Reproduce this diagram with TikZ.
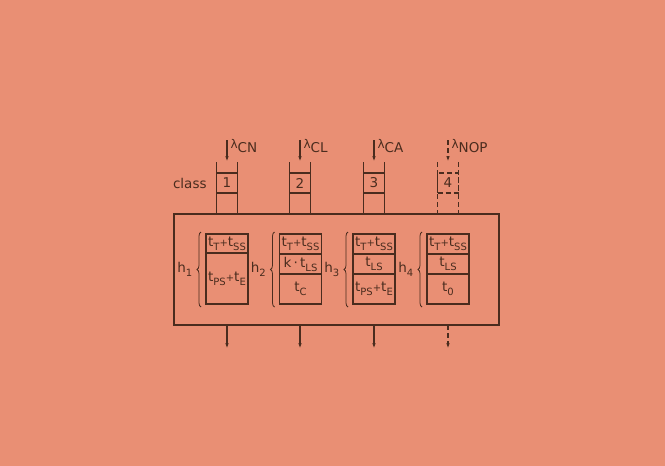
\documentclass[tikz,border=0pt]{standalone}
\usepackage{fontspec}
\setmainfont{DejaVu Sans}
\usetikzlibrary{arrows.meta, decorations.pathreplacing, positioning}
\definecolor{paper}{RGB}{233,143,116}
\definecolor{ink}{RGB}{74,44,30}
\newcommand{\sub}[1]{\raisebox{-0.55ex}{\fontsize{10}{10}\selectfont #1}}
\newcommand{\plus}{{\fontsize{10}{10}\selectfont +}}

\begin{document}
\begin{tikzpicture}[
    x=1pt, y=-1pt,
    line width=1.2pt,
    font=\fontsize{13.5}{15}\selectfont,
    cell/.style={draw, rectangle, minimum width=21pt, minimum height=20pt, inner sep=0pt, outer sep=0pt},
    slot/.style={draw, rectangle, minimum width=42pt, inner sep=0pt, outer sep=0pt},
    flow/.style={-{Latex[length=6pt, width=3.5pt]}},
    solidq/.style={solid},
    dashq/.style={dash pattern=on 5pt off 3pt},
    hbrace/.style={decorate, decoration={brace, amplitude=4pt}, line width=0.8pt}
]

    % --- Background ---
    \fill[paper] (0,0) rectangle (665,466);

    \begin{scope}[draw=ink, text=ink]

    % --- System box ---
    \node[draw, rectangle, minimum width=325pt, minimum height=111pt, outer sep=0pt] (sys) at (336.5,269.5) {};

    % --- Queues (class 1..4) ---
    \foreach \i/\x/\lab/\ls in {1/227/CN/solidq, 2/300/CL/solidq, 3/374/CA/solidq, 4/448/NOP/dashq}{
        \node[cell, \ls] (q\i) at (\x,183) {\i};
        \coordinate[above=11pt of q\i] (q\i in);
        \coordinate[above=22pt of q\i in] (q\i src);
        \coordinate (o\i) at (q\i |- sys.south);
        \coordinate[below=24pt of o\i] (o\i end);
        \draw[\ls] (q\i.north west) ++(0,-11) -- (q\i.west |- sys.north);
        \draw[\ls] (q\i.north east) ++(0,-11) -- (q\i.east |- sys.north);
        \draw[flow, \ls] (q\i src) -- (q\i in);
        \draw[flow, \ls] (o\i) -- (o\i end);
        \node[anchor=north west, inner sep=0pt] (lam\i) at ([xshift=3pt, yshift=1pt]q\i src) {{\fontsize{12}{12}\selectfont λ}\raisebox{-4pt}{\lab}};
    }
    \node[left=6pt of q1] (classlbl) {class};

    % --- Service phases per class ---
    \node[slot, minimum height=19pt, anchor=north] (s1a) at (227,234) {t\sub{T}\plus t\sub{SS}};
    \node[slot, minimum height=51pt, below=0pt of s1a] (s1b) {t\sub{PS}\plus t\sub{E}};

    \node[slot, minimum height=20pt, anchor=north] (s2a) at (300.5,234) {t\sub{T}\plus t\sub{SS}};
    \node[slot, minimum height=20pt, below=0pt of s2a] (s2b) {k\,·\,t\sub{LS}};
    \node[slot, minimum height=30pt, below=0pt of s2b] (s2c) {t\sub{C}};

    \node[slot, minimum height=20pt, anchor=north] (s3a) at (374,234) {t\sub{T}\plus t\sub{SS}};
    \node[slot, minimum height=20pt, below=0pt of s3a] (s3b) {t\sub{LS}};
    \node[slot, minimum height=30pt, below=0pt of s3b] (s3c) {t\sub{PS}\plus t\sub{E}};

    \node[slot, minimum height=20pt, anchor=north] (s4a) at (448,234) {t\sub{T}\plus t\sub{SS}};
    \node[slot, minimum height=20pt, below=0pt of s4a] (s4b) {t\sub{LS}};
    \node[slot, minimum height=30pt, below=0pt of s4b] (s4c) {t\sub{0}};

    % --- Braces h1..h4 ---
    \draw[hbrace] ([xshift=-5pt, yshift=-3pt]s1b.south west) -- ([xshift=-5pt, yshift=2pt]s1a.north west)
        node[midway, left=5pt] (h1) {h\sub{1}};
    \draw[hbrace] ([xshift=-5pt, yshift=-3pt]s2c.south west) -- ([xshift=-5pt, yshift=2pt]s2a.north west)
        node[midway, left=5pt] (h2) {h\sub{2}};
    \draw[hbrace] ([xshift=-5pt, yshift=-3pt]s3c.south west) -- ([xshift=-5pt, yshift=2pt]s3a.north west)
        node[midway, left=5pt] (h3) {h\sub{3}};
    \draw[hbrace] ([xshift=-5pt, yshift=-3pt]s4c.south west) -- ([xshift=-5pt, yshift=2pt]s4a.north west)
        node[midway, left=5pt] (h4) {h\sub{4}};

    \end{scope}

\end{tikzpicture}
\end{document}
